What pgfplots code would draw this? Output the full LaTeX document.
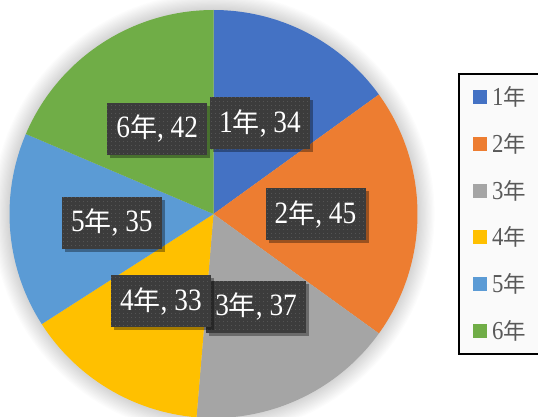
\documentclass[border=0pt]{standalone}
\usepackage{fontspec}
\setmainfont[Scale=1.15, FakeStretch=0.88]{Liberation Serif}
\newfontfamily\cjk{Noto Sans CJK SC}
\usepackage{pgfplots}
\usepackage{pgfplotstable}
\pgfplotsset{compat=1.18}
\usetikzlibrary{shadows,patterns.meta}

\definecolor{pie0}{HTML}{4472C4}
\definecolor{pie1}{HTML}{ED7D31}
\definecolor{pie2}{HTML}{A5A5A5}
\definecolor{pie3}{HTML}{FFC000}
\definecolor{pie4}{HTML}{5B9BD5}
\definecolor{pie5}{HTML}{70AD47}
\definecolor{lblgray}{HTML}{3C3C3C}
\definecolor{legtext}{HTML}{595959}

% students per year
\pgfplotstableread{
year value
1 34
2 45
3 37
4 33
5 35
6 42
}\piedata

% total and slice angles (clockwise from 12 o'clock)
\def\pietotal{0}
\pgfplotsforeachungrouped \i in {0,...,5}{%
  \pgfplotstablegetelem{\i}{value}\of\piedata
  \pgfmathsetmacro\pietotal{\pietotal+\pgfplotsretval}%
}
\def\piecum{0}
\pgfplotsforeachungrouped \i in {0,...,5}{%
  \pgfplotstablegetelem{\i}{value}\of\piedata
  \let\pieval\pgfplotsretval
  \pgfmathsetmacro\pietmpA{90-\piecum/\pietotal*360}%
  \pgfmathsetmacro\piecum{\piecum+\pieval}%
  \pgfmathsetmacro\pietmpB{90-\piecum/\pietotal*360}%
  \expandafter\xdef\csname pieA\i\endcsname{\pietmpA}%
  \expandafter\xdef\csname pieB\i\endcsname{\pietmpB}%
  \expandafter\xdef\csname pieV\i\endcsname{\pieval}%
}
\newcommand\nian{{\cjk 年}}

\begin{document}
\begin{tikzpicture}[
  lbl/.style={fill=lblgray, text=white, minimum width=100pt, minimum height=52pt,
    inner sep=0pt, font=\fontsize{27}{30}\selectfont,
    drop shadow={shadow xshift=3pt, shadow yshift=-3pt, opacity=0.35, fill=black},
    postaction={pattern={Dots[distance=4pt,radius=0.55pt]}, pattern color=white!22!lblgray}}]
\useasboundingbox (0pt,0pt) rectangle (538pt,416pt);
\clip (0pt,0pt) rectangle (538pt,416pt);
\begin{axis}[
  anchor=center, at={(213.5pt,202pt)},
  width=408pt, height=408pt, scale only axis,
  xmin=-1, xmax=1, ymin=-1, ymax=1,
  hide axis, clip=false,
  ]
  % soft shadow round the pie
  \pgfplotsinvokeforeach{1,...,14}{%
    \fill[black, opacity=0.013] (axis cs:0,0) circle[radius={1+0.006*#1}];
  }
  \pgfplotsinvokeforeach{0,...,5}{%
    \fill[pie#1] (axis cs:0,0)
      -- (axis cs:{cos(\csname pieA#1\endcsname)},{sin(\csname pieA#1\endcsname)})
      arc[start angle=\csname pieA#1\endcsname, end angle=\csname pieB#1\endcsname, radius=1]
      -- cycle;
  }
  \pgfplotsinvokeforeach{0,...,5}{%
    \node[lbl] at (axis cs:{0.5*cos((\csname pieA#1\endcsname+\csname pieB#1\endcsname)/2)},{0.5*sin((\csname pieA#1\endcsname+\csname pieB#1\endcsname)/2)})
      {\the\numexpr#1+1\relax\nian, \csname pieV#1\endcsname};
  }
\end{axis}
% legend
\draw[line width=1.5pt, fill=black!2] (459pt,62pt) rectangle (560pt,342pt);
\foreach \k in {0,...,5}{
  \pgfmathsetmacro\ly{416-97.3-46.7*\k}
  \fill[pie\k] (473pt,\ly pt-7pt) rectangle (487pt,\ly pt+7pt);
  \node[anchor=west, inner sep=0pt, text=legtext, font=\fontsize{22.5}{24}\selectfont]
    at (492pt,\ly pt) {\the\numexpr\k+1\relax\nian};
}
\end{tikzpicture}
\end{document}
